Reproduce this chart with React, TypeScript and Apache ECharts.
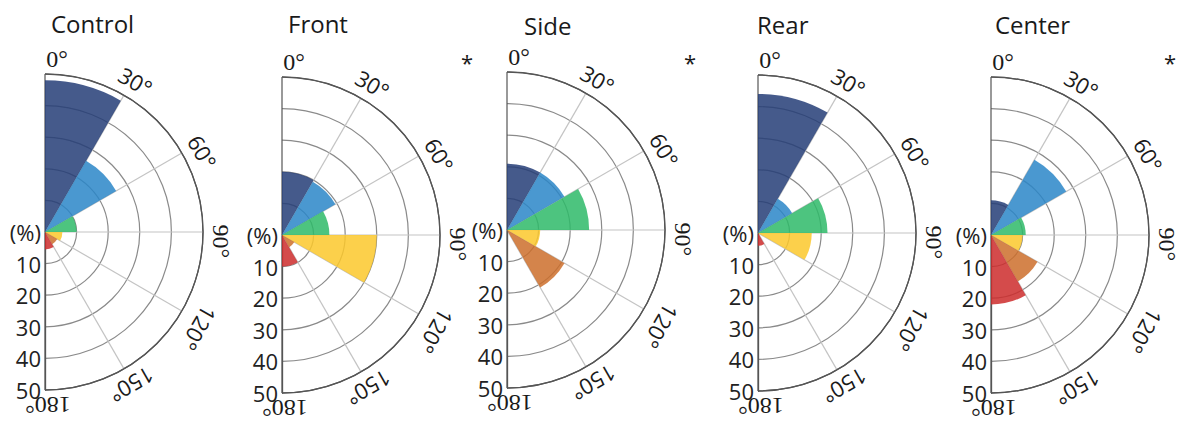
import React, { useEffect, useRef } from "react";
import * as echarts from "echarts";

// ---------- data ----------
const panelNames = ["Control", "Front", "Side", "Rear", "Center"];
const significanceMarks = ["", "*", "*", "", "*"];
const sectorLabels = ["0–30°", "30–60°", "60–90°", "90–120°", "120–150°", "150–180°"];
const controlValues = [48, 26, 10, 5.5, 4.5, 5.5];
const frontValues = [20, 19.5, 15, 30, 4.5, 10];
const sideValues = [21, 21, 26, 10.5, 21, 0];
const rearValues = [44, 12.5, 22, 17, 0, 4];
const centerValues = [11, 27.5, 11, 10, 17, 22];
const angleTickLabels = ["0°", "30°", "60°", "90°", "120°", "150°", "180°"];
const angleTickValues = [0, 30, 60, 90, 120, 150, 180];
const radiusTickLabels = ["(%)", "10", "20", "30", "40", "50"];

const panelValues = [controlValues, frontValues, sideValues, rearValues, centerValues];

// ---------- styling / layout ----------
const sectorColors = ["#253d77", "#2a86c8", "#2eba69", "#fcc82c", "#cd6f2c", "#cc2c2c"];
const R = 158;
const centers: [number, number][] = [
  [45, 232],
  [282, 235],
  [507, 230],
  [758, 233],
  [991, 235],
];
const titlePos: [number, number][] = [
  [51, 23],
  [288, 23],
  [524, 25],
  [757, 24],
  [995, 24],
];
const starPos: [number, number][] = [
  [0, 0],
  [467, 62],
  [690, 62],
  [0, 0],
  [1170, 62],
];
const labelAngleOffset = [4, 1, 3, 3, 2, 0.5, -1];
const labelRadius = [173, 176, 177, 176, 182, 176, 173];
const serifLabel = [true, false, false, true, false, false, true];

const SANS = "'Open Sans', 'Noto Sans', sans-serif";
const SERIF = "'Liberation Serif', 'DejaVu Serif', serif";

function buildOption() {
  const polar: any[] = [];
  const angleAxis: any[] = [];
  const radiusAxis: any[] = [];
  const series: any[] = [];
  const graphic: any[] = [];

  panelNames.forEach((name, i) => {
    const c = centers[i];
    polar.push({ center: c, radius: [0, R] });
    polar.push({ center: c, radius: [0, R] });

    angleAxis.push({
      polarIndex: 2 * i,
      type: "value",
      min: 0,
      max: 180,
      interval: 30,
      startAngle: -90,
      endAngle: 90,
      clockwise: false,
      axisLine: { show: true, lineStyle: { color: "#555", width: 1.3 } },
      axisTick: { show: false },
      axisLabel: { show: false },
      splitLine: {
        show: true,
        lineStyle: {
          color: ["#555", "#c4c4c4", "#c4c4c4", "#c4c4c4", "#c4c4c4", "#c4c4c4", "#555"],
          width: 1.2,
        },
      },
    });
    radiusAxis.push({
      polarIndex: 2 * i,
      type: "value",
      min: 0,
      max: 50,
      interval: 10,
      axisLine: { show: true, lineStyle: { color: "#555", width: 1.3 } },
      axisTick: { show: false },
      axisLabel: {
        show: true,
        margin: -4,
        align: "right",
        verticalAlign: "middle",
        color: "#222",
        fontSize: 22,
        fontFamily: SANS,
        formatter: (v: number) => radiusTickLabels[Math.round(v / 10)] ?? "",
      },
      splitLine: {
        show: true,
        lineStyle: {
          color: ["#8a8a8a", "#8a8a8a", "#8a8a8a", "#8a8a8a", "#8a8a8a", "#555"],
          width: 1.2,
        },
      },
    });

    angleAxis.push({
      polarIndex: 2 * i + 1,
      type: "category",
      data: sectorLabels,
      startAngle: 90,
      endAngle: -90,
      clockwise: true,
      show: false,
      axisLine: { show: false },
      axisTick: { show: false },
      axisLabel: { show: false },
      splitLine: { show: false },
    });
    radiusAxis.push({
      polarIndex: 2 * i + 1,
      type: "value",
      min: 0,
      max: 50,
      show: false,
      axisLine: { show: false },
      axisTick: { show: false },
      axisLabel: { show: false },
      splitLine: { show: false },
    });

    series.push({
      type: "bar",
      name,
      coordinateSystem: "polar",
      polarIndex: 2 * i + 1,
      barCategoryGap: "0%",
      silent: true,
      z: 2,
      data: panelValues[i].map((v, j) => ({
        value: v,
        itemStyle: { color: sectorColors[j], opacity: 0.85 },
      })),
    });

    graphic.push({
      type: "text",
      x: titlePos[i][0],
      y: titlePos[i][1],
      style: {
        text: name,
        font: `24px ${SANS}`,
        fill: "#1a1a1a",
        align: "left",
        verticalAlign: "middle",
        textAlign: "left",
        textVerticalAlign: "middle",
      },
    });
    if (significanceMarks[i]) {
      graphic.push({
        type: "text",
        x: starPos[i][0],
        y: starPos[i][1],
        style: {
          text: significanceMarks[i],
          font: `22px ${SANS}`,
          fill: "#1a1a1a",
          align: "center",
          verticalAlign: "middle",
          textAlign: "center",
          textVerticalAlign: "middle",
        },
      });
    }
    angleTickLabels.forEach((lab, k) => {
      const phi = ((angleTickValues[k] + labelAngleOffset[k]) * Math.PI) / 180;
      const rho = labelRadius[k];
      const x = c[0] + rho * Math.sin(phi);
      const y = c[1] - rho * Math.cos(phi);
      graphic.push({
        type: "text",
        x,
        y,
        rotation: (-angleTickValues[k] * Math.PI) / 180,
        style: {
          text: lab,
          font: serifLabel[k] ? `24px ${SERIF}` : `22px ${SANS}`,
          fill: "#1a1a1a",
          align: "center",
          verticalAlign: "middle",
          textAlign: "center",
          textVerticalAlign: "middle",
        },
      });
    });
  });

  return {
    animation: false,
    backgroundColor: "#ffffff",
    polar,
    angleAxis,
    radiusAxis,
    series,
    graphic,
  };
}

export default function App() {
  const ref = useRef<HTMLDivElement>(null);
  useEffect(() => {
    document.body.style.margin = "0";
    if (!ref.current) return;
    const chart = echarts.init(ref.current, undefined, { renderer: "svg" });
    chart.setOption(buildOption() as any);
    return () => chart.dispose();
  }, []);
  return <div ref={ref} style={{ width: 1181, height: 421 }} />;
}
